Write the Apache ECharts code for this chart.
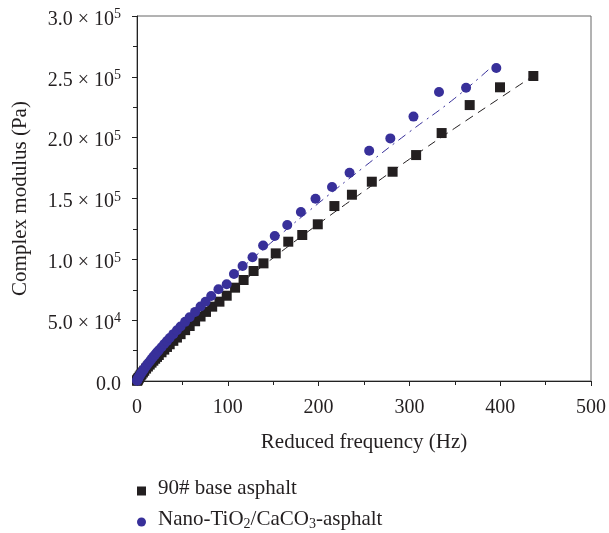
<!DOCTYPE html>
<html>
<head>
<meta charset="utf-8">
<script src="https://cdn.jsdelivr.net/npm/echarts@6/dist/echarts.min.js"></script>
<style>html,body{margin:0;padding:0;background:#fff;}#c{width:609px;height:533px;}</style>
</head>
<body>
<div id="c"></div>
<script>
// Series names
var seriesNames = ['90# base asphalt', 'Nano-TiO2/CaCO3-asphalt'];

// 90# base asphalt: reduced frequency (Hz) and complex modulus (Pa)
var baseFreq = [0.1, 0.3, 0.6, 1, 1.5, 2, 3, 4, 5, 6.5, 8, 10, 12, 14, 16, 18, 20, 22, 24, 27, 30, 33, 36, 40, 44, 48, 53, 58, 64, 70, 76, 82.8, 90.8, 98.8, 108, 117.4, 128.4, 139.3, 152.8, 166.6, 182, 199.1, 217.4, 236.7, 258.6, 281.5, 307.4, 335.5, 366.4, 399.8, 436.5];
var baseModulus = [200, 520, 930, 1400, 2000, 2600, 3700, 4700, 5600, 7000, 8400, 10200, 11900, 13500, 15100, 16700, 18300, 19800, 21400, 23600, 25800, 28000, 30200, 33000, 35700, 38500, 41800, 45200, 49100, 53000, 56800, 61100, 65200, 70100, 76700, 83000, 90400, 96700, 104900, 114500, 120000, 128800, 143800, 153100, 163800, 172000, 185700, 203800, 226800, 241400, 250700];

// Nano-TiO2/CaCO3-asphalt
var nanoFreq = [0.1, 0.3, 0.6, 1, 1.5, 2, 3, 4, 5, 6.5, 8, 10, 12, 14, 16, 18, 20, 22, 24, 27, 30, 33, 36, 40, 44, 48, 53, 58, 64, 70, 75.5, 81.7, 89.7, 98.8, 106.8, 116.3, 127.2, 138.9, 151.7, 165.5, 180.5, 196.6, 214.8, 234.1, 255.7, 279, 304.5, 332.6, 362.4, 395.7];
var nanoModulus = [270, 670, 1200, 1800, 2500, 3200, 4500, 5700, 6900, 8500, 10100, 12200, 14200, 16100, 18000, 19900, 21700, 23500, 25200, 27800, 30400, 32800, 35300, 38500, 41700, 44800, 48600, 52400, 56800, 61200, 65200, 69900, 75400, 79500, 87900, 94500, 101700, 111300, 119200, 128200, 138900, 149800, 159400, 171200, 189300, 199400, 217300, 237500, 241100, 257300];

// Fitted curves
var baseFitFreq = [0, 2, 10, 25, 50, 100, 150, 200, 250, 300, 350, 440];
var baseFitModulus = [0, 2600, 10200, 22100, 39800, 71700, 101200, 129200, 156000, 182300, 207800, 252500];
var nanoFitFreq = [0, 2, 10, 25, 50, 100, 150, 200, 250, 300, 350, 394];
var nanoFitModulus = [0, 3200, 12200, 26100, 46300, 82300, 115200, 146200, 175900, 204700, 232400, 260500];

// Axis ticks
var xTicks = [0, 100, 200, 300, 400, 500];
var yTickLabels = {0: '{n|0.0}', 50000: '{n|5.0 × 10}{sup|4}', 100000: '{n|1.0 × 10}{sup|5}', 150000: '{n|1.5 × 10}{sup|5}', 200000: '{n|2.0 × 10}{sup|5}', 250000: '{n|2.5 × 10}{sup|5}', 300000: '{n|3.0 × 10}{sup|5}'};

function zip(a, b) { return a.map(function (v, i) { return [v, b[i]]; }); }

var FONT = 'Liberation Serif';
var TXT = '#231f20';
var BLACK = '#231f20';
var BLUE = '#38309a';
var FS_TICK = 20;
var FS = 21;

function legendCfg(idx, top, icon) {
  return {
    orient: 'vertical', left: 137, top: top, padding: 0, itemGap: 0,
    itemWidth: 9, itemHeight: 9,
    data: [{name: seriesNames[idx], icon: icon}],
    formatter: function (n) { return n === seriesNames[1] ? '{m|Nano-TiO}{sub|2}{m|/CaCO}{sub|3}{m|-asphalt}' : '{m|' + n + '}'; },
    textStyle: {
      fontFamily: FONT, fontSize: FS, color: TXT, padding: [0, 0, 6, 7], lineHeight: 26,
      rich: {
        m: {fontFamily: FONT, fontSize: FS, color: TXT, lineHeight: 26, verticalAlign: 'middle'},
        sub: {fontFamily: FONT, fontSize: 14, color: TXT, lineHeight: 14, verticalAlign: 'bottom', padding: [0, 0, 1, 0]}
      }
    }
  };
}

var chart = echarts.init(document.getElementById('c'), null, {renderer: 'canvas'});
chart.setOption({
  animation: false,
  backgroundColor: '#fff',
  grid: {left: 137, right: 15, top: 16, bottom: 152, show: true, borderColor: '#666', borderWidth: 1, backgroundColor: 'transparent'},
  xAxis: {
    type: 'value', min: xTicks[0], max: xTicks[xTicks.length - 1], interval: 100,
    name: 'Reduced frequency (Hz)', nameLocation: 'middle', nameGap: 51,
    nameTextStyle: {fontFamily: FONT, fontSize: FS, color: TXT},
    axisLine: {show: true, lineStyle: {color: '#222', width: 1}},
    axisTick: {show: true, inside: false, length: 5, lineStyle: {color: '#222'}},
    minorTick: {show: true, splitNumber: 2, length: 4, lineStyle: {color: '#222'}},
    splitLine: {show: false},
    axisLabel: {fontFamily: FONT, fontSize: FS_TICK, color: TXT, margin: 17}
  },
  yAxis: {
    type: 'value', min: 0, max: 300000, interval: 50000,
    name: 'Complex modulus (Pa)', nameLocation: 'middle', nameGap: 106,
    nameTextStyle: {fontFamily: FONT, fontSize: FS, color: TXT},
    axisLine: {show: true, lineStyle: {color: '#222', width: 1}},
    axisTick: {show: true, inside: false, length: 5, lineStyle: {color: '#222'}},
    minorTick: {show: true, splitNumber: 2, length: 4, lineStyle: {color: '#222'}},
    splitLine: {show: false},
    axisLabel: {
      fontFamily: FONT, fontSize: FS_TICK, color: TXT, margin: 16, padding: [7, 0, 0, 0],
      formatter: function (v) { return yTickLabels[v] !== undefined ? yTickLabels[v] : ''; },
      rich: {
        n: {fontFamily: FONT, fontSize: FS_TICK, color: TXT, lineHeight: 24, verticalAlign: 'middle'},
        sup: {fontFamily: FONT, fontSize: 14, color: TXT, lineHeight: 14, verticalAlign: 'top'}
      }
    }
  },
  legend: [legendCfg(0, 475, 'rect'), legendCfg(1, 506, 'circle')],
  series: [
    {name: seriesNames[0] + ' fit', type: 'line', data: zip(baseFitFreq, baseFitModulus), smooth: true, showSymbol: false, symbol: 'none', silent: true,
      lineStyle: {color: BLACK, width: 1, type: [9, 6]}, z: 1},
    {name: seriesNames[1] + ' fit', type: 'line', data: zip(nanoFitFreq, nanoFitModulus), smooth: true, showSymbol: false, symbol: 'none', silent: true,
      lineStyle: {color: BLUE, width: 1, type: [9, 5, 2, 5]}, z: 1},
    {name: seriesNames[0], type: 'scatter', data: zip(baseFreq, baseModulus), symbol: 'rect', symbolSize: 10,
      itemStyle: {color: BLACK, opacity: 1}, z: 2},
    {name: seriesNames[1], type: 'scatter', data: zip(nanoFreq, nanoModulus), symbol: 'circle', symbolSize: 10,
      itemStyle: {color: BLUE, opacity: 1}, z: 3}
  ]
});
</script>
</body>
</html>
